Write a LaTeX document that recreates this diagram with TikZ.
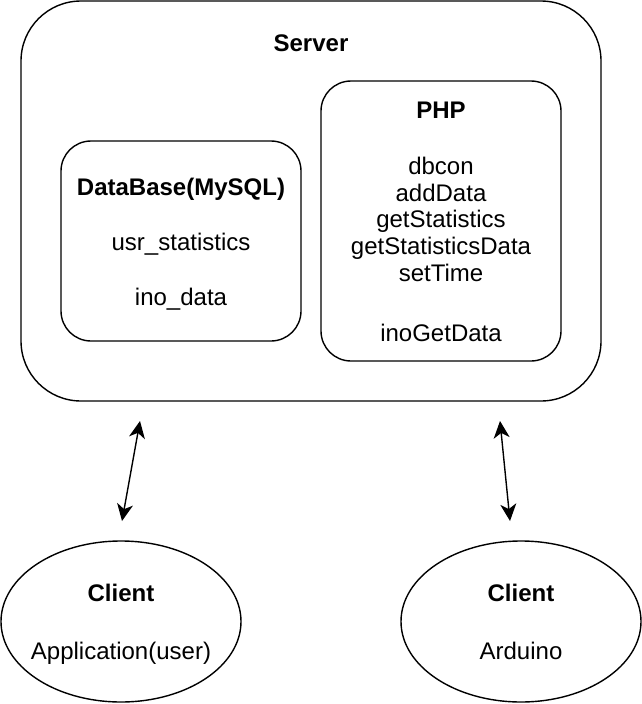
\documentclass[tikz,border=0pt]{standalone}
\usepackage{fontspec}
\setmainfont{Liberation Sans}
\usetikzlibrary{arrows.meta,shapes.geometric}
\begin{document}
\begin{tikzpicture}[x=1pt,y=-1pt,
  box/.style={draw=black,line width=1.4pt,rounded corners=#1},
  txt/.style={anchor=base,inner sep=0pt,font=\fontsize{24}{27}\selectfont},
  bold/.style={txt,font=\fontsize{24}{27}\selectfont\bfseries},
  conn/.style={line width=1.4pt,{Stealth[length=17pt,width=16pt,inset=5pt]}-{Stealth[length=17pt,width=16pt,inset=5pt]}}]
\useasboundingbox (0,0) rectangle (642,704);
% Server
\draw[box=60pt] (21,1) rectangle (601,401);
\node[bold] (server) at (311,51) {Server};
% Database
\draw[box=30pt] (61,141) rectangle (301,341);
\node[bold] (dbt) at (181,195) {DataBase(MySQL)};
\node[txt] (usr) at (181,250) {usr\_statistics};
\node[txt] (ino) at (181,305.5) {ino\_data};
% PHP
\draw[box=30pt] (321,81) rectangle (561,361);
\node[bold] (php) at (441,118) {PHP};
\node[txt] (p1) at (441,174.3) {dbcon};
\node[txt] (p2) at (441,201) {addData};
\node[txt] (p3) at (441,227.7) {getStatistics};
\node[txt] (p4) at (441,254.3) {getStatisticsData};
\node[txt] (p5) at (441,281) {setTime};
\node[txt] (p6) at (441,341) {inoGetData};
% Clients
\node[draw=black,line width=1.4pt,ellipse,minimum width=240pt,minimum height=161pt,inner sep=0pt] (c1) at (121,621.5) {};
\node[bold] (c1t) at (121,601.7) {Client};
\node[txt] (c1s) at (121,659) {Application(user)};
\node[draw=black,line width=1.4pt,ellipse,minimum width=240pt,minimum height=161pt,inner sep=0pt] (c2) at (521,621.5) {};
\node[bold] (c2t) at (521,601.7) {Client};
\node[txt] (c2s) at (521,659) {Arduino};
% Connectors
\coordinate (a1) at (140,421);
\coordinate (b1) at (122,521);
\coordinate (a2) at (500,421);
\coordinate (b2) at (510,521);
\draw[conn] (a1) -- (b1);
\draw[conn] (a2) -- (b2);
\end{tikzpicture}
\end{document}
